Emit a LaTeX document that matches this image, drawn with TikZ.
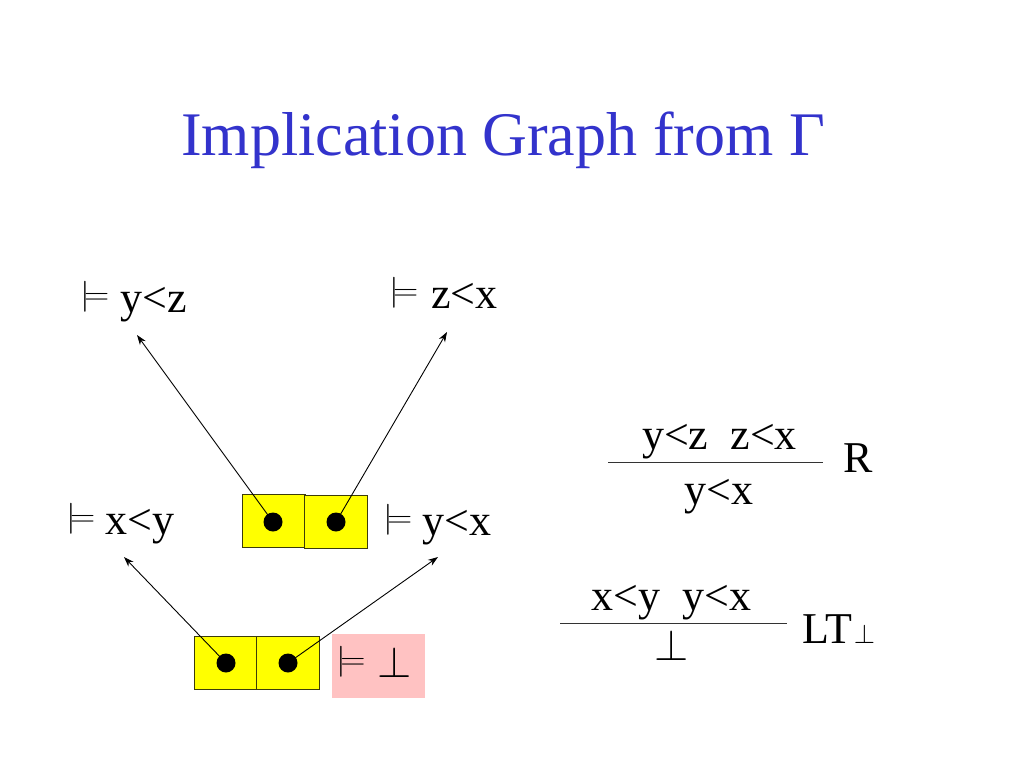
\RequirePackage{fix-cm}
\documentclass[tikz,border=0pt]{standalone}
\usepackage{graphicx}
\usepackage{fontspec}
\setmainfont{Liberation Serif}
\usetikzlibrary{arrows.meta}
\definecolor{titleblue}{RGB}{51,51,204}
\definecolor{boxyellow}{RGB}{255,255,0}
\definecolor{boxedge}{RGB}{60,60,10}
\definecolor{pinkbg}{RGB}{255,194,194}
\newcommand\mdl{\raisebox{7.75pt}{\resizebox*{29pt}{31pt}{$\models$}}}
\begin{document}
\begin{tikzpicture}[x=1pt,y=-1pt,
  lbl/.style={font=\fontsize{44}{50}\selectfont, inner sep=0pt, anchor=base west},
  lblc/.style={font=\fontsize{44}{50}\selectfont, inner sep=0pt, anchor=base},
  ybox/.style={draw=boxedge, line width=1pt, fill=boxyellow, minimum width=63pt, minimum height=53pt, inner sep=0pt},
  dot/.style={circle, fill=black, minimum size=19pt, inner sep=0pt},
  arr/.style={line width=0.9pt, -{Stealth[length=10pt,width=7pt]}},
  ruleline/.style={line width=1pt, black!80}]
\useasboundingbox (0,0) rectangle (1024,768);
% title
\node[font=\fontsize{62}{70}\selectfont, text=titleblue, inner sep=0pt, anchor=base] (title) at (503,155) {Implication Graph from Γ};
% labels
\node[lbl] (lyz) at (80,312) {\mdl\hspace{11pt}y<z};
\node[lbl] (lzx) at (389,308) {\mdl\hspace{13pt}z<x};
\node[lbl] (lxy) at (66,534) {\mdl\hspace{10pt}x<y};
\node[lbl] (lyx) at (383,535) {\mdl\hspace{10pt}y<x};
% upper boxes
\node[ybox] (ub1) at (273.5,521) {};
\node[ybox] (ub2) at (336,521.5) {};
\node[dot] (ud1) at (273,522) {};
\node[dot] (ud2) at (336,522) {};
% lower boxes
\node[ybox] (lb1) at (225.5,663) {};
\node[ybox] (lb2) at (288,663) {};
\node[dot] (ld1) at (226,663) {};
\node[dot] (ld2) at (288,663) {};
% pink box
\node[fill=pinkbg, minimum width=93pt, minimum height=64pt, inner sep=0pt,
      font=\fontsize{44}{50}\selectfont, text height=22pt, text depth=0pt] (pink) at (378.5,666) {\mdl\hspace{12pt}$\bot$\hspace*{8.7pt}};
% arrow targets
\coordinate (t1) at (137,335);
\coordinate (t2) at (447,332);
\coordinate (t3) at (124,557);
\coordinate (t4) at (438,557);
\draw[arr] (ud1.center) -- (t1);
\draw[arr] (ud2.center) -- (t2);
\draw[arr] (ld1.center) -- (t3);
\draw[arr] (ld2.center) -- (t4);
% rule R
\node[lblc] (r1top) at (719.5,449) {y<z\hspace{22pt}z<x};
\coordinate (r1a) at (608,462);
\coordinate (r1b) at (823,462);
\draw[ruleline] (r1a) -- (r1b);
\node[lblc] (r1bot) at (719,504) {y<x};
\node[lbl] (rname) at (843,472) {R};
% rule LT
\node[lblc] (r2top) at (671.5,610) {x<y\hspace{22pt}y<x};
\coordinate (r2a) at (560,623);
\coordinate (r2b) at (787,623);
\draw[ruleline] (r2a) -- (r2b);
\node[lblc] (r2bot) at (672,660) {$\bot$};
\node[lbl] (ltname) at (802,643) {LT\hspace{2pt}\scalebox{0.62}{$\bot$}};
\end{tikzpicture}
\end{document}
